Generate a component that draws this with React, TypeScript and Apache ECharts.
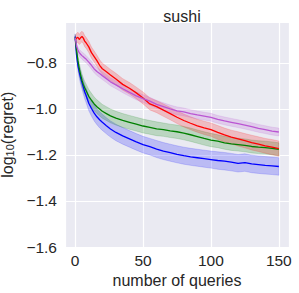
import React, { useEffect, useRef } from "react";
import * as echarts from "echarts";

const title = "sushi";
const xName = "number of queries";
const queries = [0, 1, 2, 3, 4, 5, 6, 7, 8, 10, 12, 14, 16, 18, 20, 23, 26, 30, 35, 40, 45, 50, 55, 60, 65, 70, 75, 80, 85, 90, 95, 100, 105, 110, 115, 120, 125, 130, 135, 140, 145, 150];

const blueMean = [-0.685, -0.765, -0.81, -0.84, -0.865, -0.885, -0.905, -0.925, -0.94, -0.975, -0.998, -1.018, -1.034, -1.047, -1.058, -1.073, -1.087, -1.102, -1.117, -1.13, -1.143, -1.155, -1.164, -1.174, -1.183, -1.19, -1.197, -1.203, -1.208, -1.212, -1.216, -1.22, -1.224, -1.227, -1.231, -1.236, -1.233, -1.239, -1.242, -1.245, -1.247, -1.25];
const blueSpread = [0.012, 0.018, 0.022, 0.025, 0.027, 0.028, 0.03, 0.03, 0.031, 0.032, 0.033, 0.034, 0.034, 0.035, 0.035, 0.035, 0.035, 0.036, 0.036, 0.036, 0.036, 0.036, 0.036, 0.037, 0.037, 0.037, 0.037, 0.037, 0.037, 0.037, 0.037, 0.037, 0.038, 0.038, 0.038, 0.038, 0.038, 0.038, 0.038, 0.038, 0.038, 0.038];

const greenMean = [-0.688, -0.745, -0.79, -0.825, -0.852, -0.875, -0.893, -0.908, -0.92, -0.945, -0.962, -0.978, -0.99, -1.0, -1.01, -1.02, -1.03, -1.04, -1.05, -1.058, -1.066, -1.074, -1.08, -1.086, -1.09, -1.095, -1.099, -1.105, -1.112, -1.12, -1.128, -1.135, -1.14, -1.147, -1.152, -1.155, -1.158, -1.163, -1.166, -1.168, -1.171, -1.175];
const greenSpread = [0.012, 0.018, 0.022, 0.025, 0.026, 0.027, 0.028, 0.028, 0.029, 0.03, 0.03, 0.03, 0.03, 0.03, 0.03, 0.03, 0.03, 0.03, 0.03, 0.03, 0.03, 0.03, 0.03, 0.03, 0.029, 0.029, 0.029, 0.029, 0.029, 0.029, 0.029, 0.029, 0.028, 0.028, 0.028, 0.028, 0.028, 0.028, 0.028, 0.028, 0.028, 0.028];

const redMean = [-0.7, -0.692, -0.688, -0.698, -0.69, -0.685, -0.692, -0.705, -0.712, -0.73, -0.755, -0.772, -0.79, -0.81, -0.825, -0.838, -0.852, -0.87, -0.893, -0.91, -0.93, -0.952, -0.978, -0.99, -1.005, -1.02, -1.036, -1.05, -1.062, -1.073, -1.082, -1.09, -1.102, -1.113, -1.122, -1.13, -1.138, -1.146, -1.153, -1.16, -1.166, -1.172];
const redSpread = [0.015, 0.02, 0.022, 0.022, 0.023, 0.023, 0.024, 0.024, 0.024, 0.024, 0.024, 0.024, 0.024, 0.024, 0.024, 0.024, 0.024, 0.025, 0.025, 0.025, 0.025, 0.026, 0.026, 0.026, 0.027, 0.027, 0.027, 0.028, 0.028, 0.028, 0.029, 0.029, 0.03, 0.03, 0.03, 0.031, 0.031, 0.032, 0.032, 0.032, 0.033, 0.033];

const purpleMean = [-0.69, -0.725, -0.745, -0.755, -0.762, -0.768, -0.773, -0.778, -0.783, -0.796, -0.81, -0.826, -0.837, -0.846, -0.855, -0.868, -0.882, -0.895, -0.912, -0.928, -0.943, -0.955, -0.966, -0.98, -0.99, -1.0, -1.008, -1.013, -1.02, -1.026, -1.031, -1.036, -1.045, -1.052, -1.058, -1.064, -1.07, -1.077, -1.084, -1.09, -1.096, -1.1];
const purpleSpread = [0.01, 0.012, 0.014, 0.015, 0.015, 0.016, 0.016, 0.016, 0.016, 0.016, 0.017, 0.017, 0.017, 0.017, 0.017, 0.017, 0.017, 0.017, 0.017, 0.017, 0.017, 0.017, 0.017, 0.017, 0.017, 0.017, 0.017, 0.017, 0.017, 0.017, 0.017, 0.017, 0.017, 0.017, 0.017, 0.017, 0.017, 0.017, 0.017, 0.017, 0.017, 0.017];

const seriesDefs = [
  { name: "blue", color: "#0000ff", mean: blueMean, spread: blueSpread },
  { name: "green", color: "#008000", mean: greenMean, spread: greenSpread },
  { name: "red", color: "#ff0000", mean: redMean, spread: redSpread },
  { name: "purple", color: "#ba55d3", mean: purpleMean, spread: purpleSpread },
];

const FONT = "Liberation Sans, Arial, sans-serif";
const TEXT = "#262626";

export default function App() {
  const ref = useRef<HTMLDivElement>(null);
  useEffect(() => {
    if (!ref.current) return;
    const chart = echarts.init(ref.current, null, { renderer: "svg" });
    const bands = seriesDefs.map((s) => ({
      type: "custom",
      name: s.name + " band",
      data: [0],
      silent: true,
      z: 1,
      renderItem: (params: any, api: any) => {
        const upper = queries.map((q, i) => api.coord([q, s.mean[i] + s.spread[i]]));
        const lower = queries.map((q, i) => api.coord([q, s.mean[i] - s.spread[i]])).reverse();
        return {
          type: "polygon",
          shape: { points: upper.concat(lower) },
          style: {
            fill: s.color,
            fillOpacity: 0.2,
            stroke: s.color,
            strokeOpacity: 0.2,
            lineWidth: 0.8,
          },
        };
      },
    }));
    const lines = seriesDefs.map((s) => ({
      type: "line",
      name: s.name,
      data: queries.map((q, i) => [q, s.mean[i]]),
      showSymbol: false,
      symbol: "none",
      silent: true,
      z: 2,
      lineStyle: { color: s.color, width: 1.3 },
    }));
    chart.setOption({
      animation: false,
      backgroundColor: "#ffffff",
      textStyle: { fontFamily: FONT },
      title: {
        text: title,
        left: 177,
        top: 3,
        textAlign: "center",
        textStyle: { fontFamily: FONT, fontSize: 16, fontWeight: "normal", color: TEXT },
      },
      grid: {
        left: 65,
        right: 10,
        top: 22.5,
        bottom: 46,
        show: true,
        backgroundColor: "#EAEAF2",
        borderWidth: 0,
        containLabel: false,
        outerBoundsMode: "none",
      },
      xAxis: {
        type: "value",
        min: -7.5,
        max: 157.5,
        splitNumber: 3,
        minInterval: 50,
        maxInterval: 50,
        name: xName,
        nameLocation: "middle",
        nameGap: 24,
        nameTextStyle: { fontFamily: FONT, fontSize: 16, color: TEXT },
        axisLine: { show: false },
        axisTick: { show: false },
        axisLabel: {
          showMinLabel: false,
          showMaxLabel: false,
          margin: 5,
          fontFamily: FONT,
          fontSize: 15.5,
          color: TEXT,
        },
        splitLine: { show: true, lineStyle: { color: "#ffffff", width: 1.2 } },
      },
      yAxis: {
        type: "value",
        min: -1.6,
        max: -0.624,
        splitNumber: 5,
        minInterval: 0.2,
        maxInterval: 0.2,
        name: "log{s|10}(regret)",
        nameLocation: "middle",
        nameGap: 46,
        nameRotate: 90,
        nameTextStyle: {
          fontFamily: FONT,
          fontSize: 16,
          color: TEXT,
          rich: {
            s: { fontFamily: FONT, fontSize: 11, color: TEXT, padding: [6, 0, 0, 0] },
          },
        },
        axisLine: { show: false },
        axisTick: { show: false },
        axisLabel: {
          showMinLabel: true,
          showMaxLabel: false,
          margin: 8,
          fontFamily: FONT,
          fontSize: 15.5,
          color: TEXT,
          formatter: (v: number) => v.toFixed(1).replace("-", "\u2212"),
        },
        splitLine: { show: true, lineStyle: { color: "#ffffff", width: 1.2 } },
      },
      series: [...bands, ...lines],
    });
    return () => chart.dispose();
  }, []);
  return (
    <div
      ref={ref}
      style={{ position: "fixed", left: 0, top: 0, width: 299, height: 293 }}
    />
  );
}
